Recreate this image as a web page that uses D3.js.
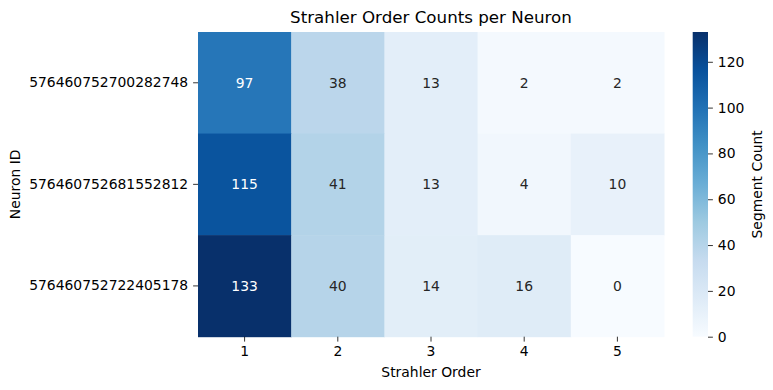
<!DOCTYPE html>
<html>
<head>
<meta charset="utf-8">
<script src="https://cdn.jsdelivr.net/npm/d3@7"></script>
<style>
  body { margin: 0; background: #fff; }
  svg { font-family: "DejaVu Sans", sans-serif; }
</style>
</head>
<body>
<svg id="chart" width="773" height="390"></svg>
<script>
// Data
const neurons = ['576460752700282748', '576460752681552812', '576460752722405178'];
const orders = [1, 2, 3, 4, 5];
const counts = [
  [97, 38, 13, 2, 2],
  [115, 41, 13, 4, 10],
  [133, 40, 14, 16, 0]
];
const colorTicks = [0, 20, 40, 60, 80, 100, 120];

// matplotlib "Blues" stops
const blues = ['#f7fbff', '#deebf7', '#c6dbef', '#9ecae1', '#6baed6', '#4292c6', '#2171b5', '#08519c', '#08306b'];

const svg = d3.select('#chart');
const mLeft = 198, mTop = 32, mRight = 664, mBottom = 336.7;
const vmax = d3.max(counts.flat());

const xScale = d3.scaleBand().domain(orders).range([mLeft, mRight]);
const yScale = d3.scaleBand().domain(neurons).range([mTop, mBottom]);
const color = d3.scaleLinear()
  .domain(blues.map((c, i) => vmax * i / (blues.length - 1)))
  .range(blues)
  .interpolate(d3.interpolateRgb);

const cells = [];
counts.forEach((row, i) => row.forEach((v, j) => cells.push({ n: neurons[i], o: orders[j], v })));

function textColor(v) {
  const c = d3.rgb(color(v));
  const lin = x => { x /= 255; return x <= 0.03928 ? x / 12.92 : Math.pow((x + 0.055) / 1.055, 2.4); };
  const l = 0.2126 * lin(c.r) + 0.7152 * lin(c.g) + 0.0722 * lin(c.b);
  return l < 0.408 ? '#fff' : '#262626';
}

svg.selectAll('rect.cell')
  .data(cells)
  .enter()
  .append('rect')
  .attr('class', 'cell')
  .attr('x', d => xScale(d.o))
  .attr('y', d => yScale(d.n))
  .attr('width', xScale.bandwidth() + 0.5)
  .attr('height', yScale.bandwidth() + 0.5)
  .attr('fill', d => color(d.v));

svg.selectAll('text.annot')
  .data(cells)
  .enter()
  .append('text')
  .attr('class', 'annot')
  .attr('x', d => xScale(d.o) + xScale.bandwidth() / 2)
  .attr('y', d => yScale(d.n) + yScale.bandwidth() / 2)
  .attr('dy', '0.35em')
  .attr('text-anchor', 'middle')
  .style('font-size', '13.9px')
  .attr('fill', d => textColor(d.v))
  .text(d => d.v);

// Axes
const xAxis = svg.append('g')
  .attr('transform', `translate(0, ${mBottom})`)
  .call(d3.axisBottom(xScale).tickSize(4.9).tickPadding(4.9));
const yAxis = svg.append('g')
  .attr('transform', `translate(${mLeft}, 0)`)
  .call(d3.axisLeft(yScale).tickSize(4.9).tickPadding(4.9));
[xAxis, yAxis].forEach(g => {
  g.select('.domain').remove();
  g.selectAll('text').style('font-size', '13.9px').attr('fill', '#000').style('font-family', '"DejaVu Sans", sans-serif');
  g.selectAll('line').attr('stroke', '#000').attr('stroke-width', 0.8);
});

// Colorbar
const cbX = 692.7, cbW = 15.3;
const cScale = d3.scaleLinear().domain([0, vmax]).range([mBottom, mTop]);
const defs = svg.append('defs');
const grad = defs.append('linearGradient').attr('id', 'cbgrad')
  .attr('x1', 0).attr('y1', 1).attr('x2', 0).attr('y2', 0);
blues.forEach((c, i) => grad.append('stop').attr('offset', i / (blues.length - 1)).attr('stop-color', c));
svg.append('rect')
  .attr('x', cbX).attr('y', mTop)
  .attr('width', cbW).attr('height', mBottom - mTop)
  .attr('fill', 'url(#cbgrad)');
const cAxis = svg.append('g')
  .attr('transform', `translate(${cbX + cbW}, 0)`)
  .call(d3.axisRight(cScale).tickValues(colorTicks).tickSize(4.9).tickPadding(4.9));
cAxis.select('.domain').remove();
cAxis.selectAll('text').style('font-size', '13.9px').attr('fill', '#000').style('font-family', '"DejaVu Sans", sans-serif');
cAxis.selectAll('line').attr('stroke', '#000').attr('stroke-width', 0.8);

// Labels
svg.append('text')
  .attr('x', (mLeft + mRight) / 2).attr('y', 23)
  .attr('text-anchor', 'middle')
  .style('font-size', '16.7px')
  .text('Strahler Order Counts per Neuron');
svg.append('text')
  .attr('x', (mLeft + mRight) / 2).attr('y', 377)
  .attr('text-anchor', 'middle')
  .style('font-size', '13.9px')
  .text('Strahler Order');
svg.append('text')
  .attr('transform', `translate(20, ${(mTop + mBottom) / 2}) rotate(-90)`)
  .attr('text-anchor', 'middle')
  .style('font-size', '13.9px')
  .text('Neuron ID');
svg.append('text')
  .attr('transform', `translate(761.5, ${(mTop + mBottom) / 2}) rotate(-90)`)
  .attr('text-anchor', 'middle')
  .style('font-size', '13.9px')
  .text('Segment Count');
</script>
</body>
</html>
